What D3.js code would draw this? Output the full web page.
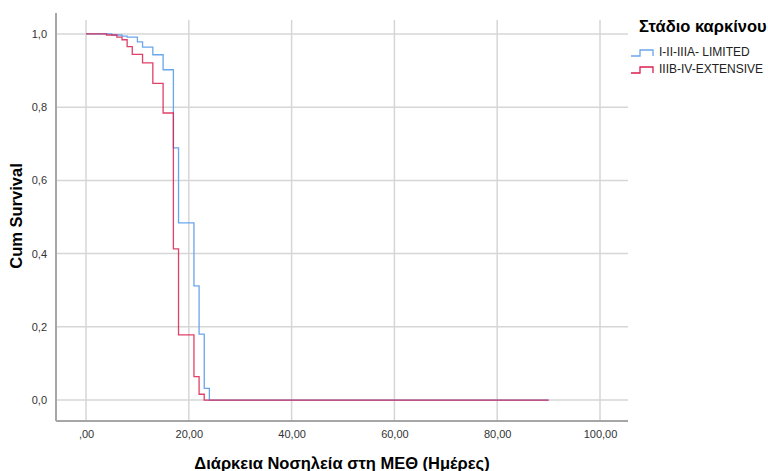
<!DOCTYPE html>
<html>
<head>
<meta charset="utf-8">
<script src="https://cdn.jsdelivr.net/npm/d3@7"></script>
<style>
  body { margin: 0; background: #fff; }
  svg { font-family: "Liberation Sans", Arial, sans-serif; }
</style>
</head>
<body>
<div id="chart"></div>
<script>
// datos (dias, supervivencia acumulada)
var limitedTime = [0, 5, 7, 8, 10, 11, 13, 15, 17, 18, 21, 22, 23, 24, 90];
var limitedSurv = [1, 0.997, 0.994, 0.991, 0.978, 0.964, 0.943, 0.902, 0.689, 0.484, 0.312, 0.180, 0.032, 0, 0];
var extensiveTime = [0, 4, 6, 7, 8, 9, 11, 13, 15, 17, 18, 21, 22, 23, 90];
var extensiveSurv = [1, 0.997, 0.991, 0.984, 0.965, 0.944, 0.921, 0.865, 0.784, 0.413, 0.178, 0.064, 0.016, 0, 0];

var seriesNames = ["I-II-IIIA- LIMITED", "IIIB-IV-EXTENSIVE"];
var seriesColors = ["#6aa6ec", "#dc1f4e"];
var xTicks = [0, 20, 40, 60, 80, 100];
var yTicks = [0, 0.2, 0.4, 0.6, 0.8, 1.0];

drawChart();

function drawChart() {
  var width = 768, height = 471;
  var plotLeft = 56, plotRight = 628, plotTop = 13, plotBottom = 421;

  var svg = d3.select("#chart").append("svg")
    .attr("width", width)
    .attr("height", height);

  var x = d3.scaleLinear().domain([-5.84, 105.45]).range([plotLeft, plotRight]);
  var y = d3.scaleLinear().domain([-0.057, 1.057]).range([plotBottom, plotTop]);

  var fmtX = function (d) { return d === 0 ? ",00" : d3.format(".2f")(d).replace(".", ","); };
  var fmtY = function (d) { return d3.format(".1f")(d).replace(".", ","); };

  // rejilla
  svg.append("g").selectAll("line").data(yTicks).enter().append("line")
    .attr("x1", plotLeft).attr("x2", plotRight)
    .attr("y1", d => y(d)).attr("y2", d => y(d))
    .attr("stroke", "#d6d6d6").attr("stroke-width", 1.5);

  svg.append("g").selectAll("line").data(xTicks).enter().append("line")
    .attr("x1", d => x(d)).attr("x2", d => x(d))
    .attr("y1", 20).attr("y2", plotBottom)
    .attr("stroke", "#d6d6d6").attr("stroke-width", 1.5);

  // ejes
  var xAxis = d3.axisBottom(x).tickValues(xTicks).tickFormat(fmtX).tickSize(0).tickPadding(9);
  var yAxis = d3.axisLeft(y).tickValues(yTicks).tickFormat(fmtY).tickSize(0).tickPadding(9);

  var gx = svg.append("g").attr("transform", "translate(0," + plotBottom + ")").call(xAxis);
  var gy = svg.append("g").attr("transform", "translate(" + plotLeft + ",0)").call(yAxis);
  gx.select(".domain").remove();
  gy.select(".domain").remove();
  [gx, gy].forEach(function (g) {
    g.selectAll("text").attr("fill", "#333").style("font-size", "11px")
      .style("font-family", "'Liberation Sans', Arial, sans-serif");
  });

  svg.append("line")
    .attr("x1", plotLeft).attr("x2", plotRight).attr("y1", plotBottom).attr("y2", plotBottom)
    .attr("stroke", "#a6a6a6").attr("stroke-width", 2);
  svg.append("line")
    .attr("x1", plotLeft).attr("x2", plotLeft).attr("y1", plotTop).attr("y2", plotBottom)
    .attr("stroke", "#a6a6a6").attr("stroke-width", 2);

  // curvas escalonadas
  var line = d3.line()
    .x(d => x(d[0]))
    .y(d => y(d[1]))
    .curve(d3.curveStepAfter);

  var series = [
    d3.zip(limitedTime, limitedSurv),
    d3.zip(extensiveTime, extensiveSurv)
  ];

  svg.append("g").selectAll("path").data(series).enter().append("path")
    .attr("d", line)
    .attr("fill", "none")
    .attr("stroke", (d, i) => seriesColors[i])
    .attr("stroke-opacity", (d, i) => i === 1 ? 0.85 : 1)
    .attr("stroke-width", 1.3);

  // titulos
  svg.append("text")
    .attr("transform", "translate(22,216) rotate(-90)")
    .attr("text-anchor", "middle")
    .style("font-size", "16.5px").style("font-weight", "bold")
    .attr("fill", "#000")
    .text("Cum Survival");

  svg.append("text")
    .attr("x", (plotLeft + plotRight) / 2).attr("y", 469)
    .attr("text-anchor", "middle")
    .style("font-size", "16.5px").style("font-weight", "bold")
    .attr("fill", "#000")
    .text("Διάρκεια Νοσηλεία στη ΜΕΘ (Ημέρες)");

  // leyenda
  var legend = svg.append("g").attr("transform", "translate(631,0)");
  legend.append("text")
    .attr("x", 8).attr("y", 32)
    .style("font-size", "16.5px").style("font-weight", "bold")
    .attr("fill", "#000")
    .text("Στάδιο καρκίνου");

  var item = legend.selectAll(".item").data(seriesNames).enter().append("g")
    .attr("transform", (d, i) => "translate(0," + (50 + i * 17) + ")");
  item.append("path")
    .attr("d", "M0,6H9V0H22V6")
    .attr("fill", "none")
    .attr("stroke", (d, i) => seriesColors[i])
    .attr("stroke-width", 1.3);
  item.append("text")
    .attr("x", 28).attr("y", 6)
    .style("font-size", "12px")
    .attr("fill", "#222")
    .text(d => d);
}
</script>
</body>
</html>
